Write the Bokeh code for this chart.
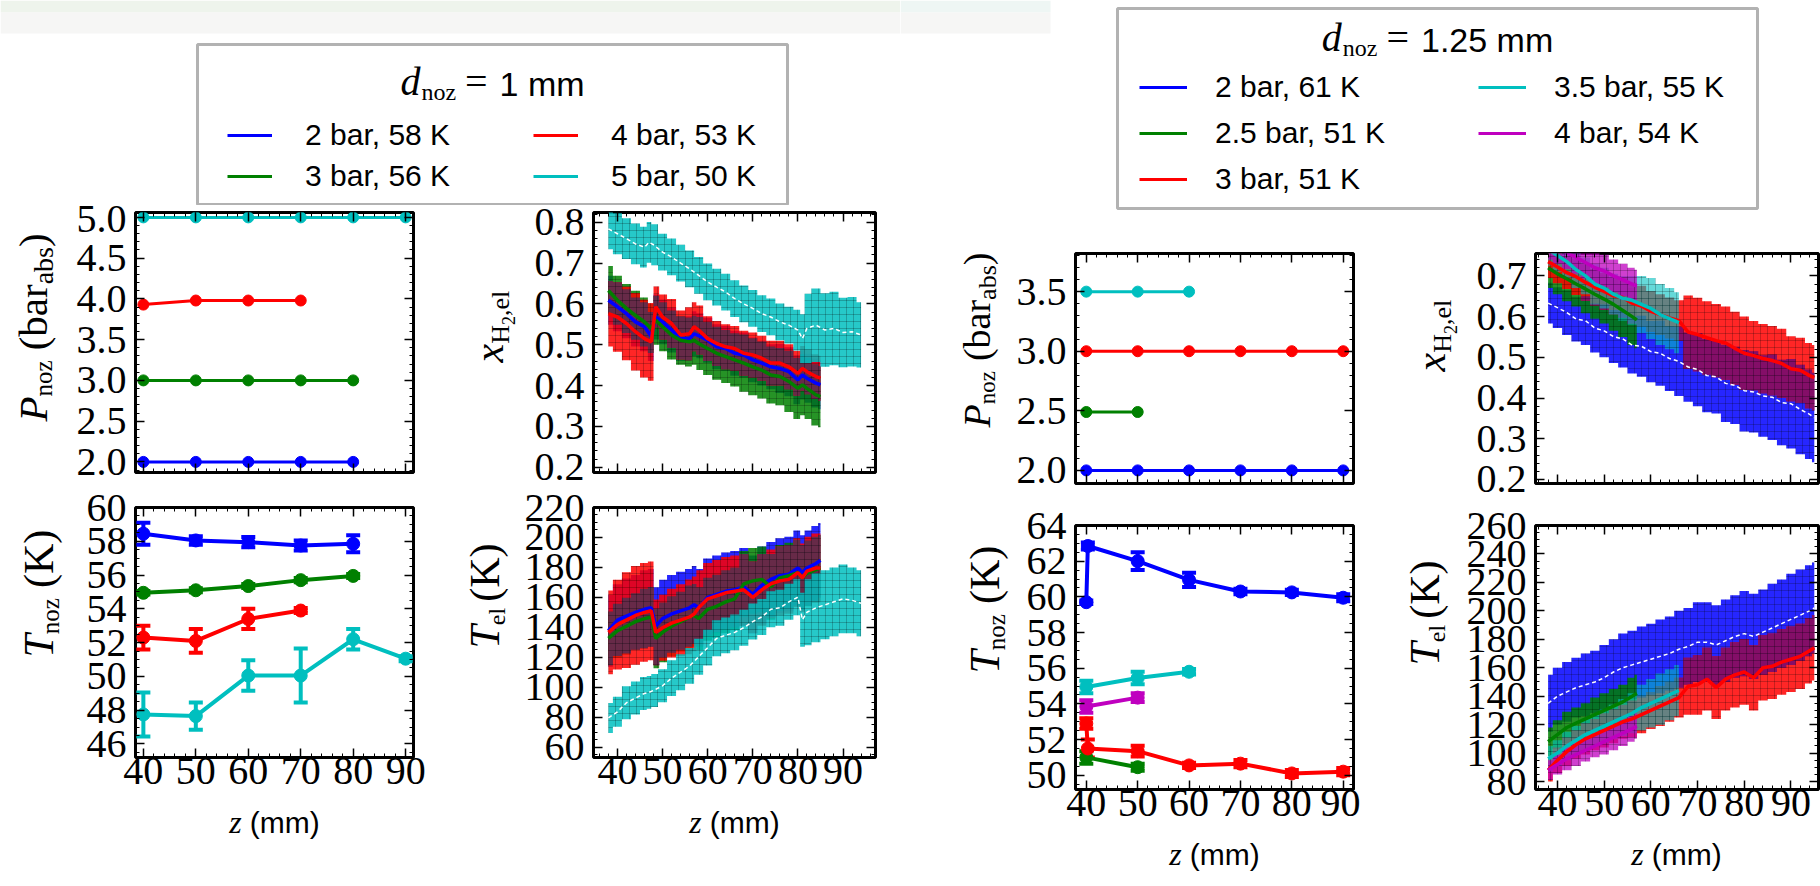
import math
from bokeh.plotting import figure
from bokeh.layouts import row, column
from bokeh.models import (Range1d, FixedTicker, LinearAxis, Label, Legend, LegendItem,
                          BoxAnnotation, Whisker, TeeHead, ColumnDataSource, PrintfTickFormatter)
from bokeh.embed import file_html
from bokeh.resources import INLINE

BLUE, GREEN, RED, CYAN, MAGENTA = "#0000ff", "#008000", "#ff0000", "#00bfbf", "#bf00bf"
SERIF, SANS = "Liberation Serif", "Liberation Sans"

# ======================= DATA : d_noz = 1 mm =======================
z_ticks = [40, 50, 60, 70, 80, 90]
legend1_labels = ["2 bar, 58 K", "3 bar, 56 K", "4 bar, 53 K", "5 bar, 50 K"]

p1_z_2bar = [40, 50, 60, 70, 80]
p1_2bar = [2.0, 2.0, 2.0, 2.0, 2.0]
p1_z_3bar = [40, 50, 60, 70, 80]
p1_3bar = [3.0, 3.0, 3.0, 3.0, 3.0]
p1_z_4bar = [40, 50, 60, 70]
p1_4bar = [3.93, 3.98, 3.98, 3.98]
p1_z_5bar = [40, 50, 60, 70, 80, 90]
p1_5bar = [5.0, 5.0, 5.0, 5.0, 5.0, 5.0]
p1_ticks = [2.0, 2.5, 3.0, 3.5, 4.0, 4.5, 5.0]

t1_2bar = [58.45, 58.05, 57.95, 57.75, 57.85]
t1_2bar_err = [0.65, 0.25, 0.3, 0.3, 0.5]
t1_3bar = [54.95, 55.1, 55.35, 55.7, 55.95]
t1_3bar_err = [0.1, 0.12, 0.12, 0.12, 0.12]
t1_4bar = [52.3, 52.1, 53.4, 53.9]
t1_4bar_err = [0.7, 0.7, 0.6, 0.15]
t1_5bar = [47.75, 47.65, 50.05, 50.05, 52.2, 51.05]
t1_5bar_err = [1.3, 0.8, 0.9, 1.6, 0.6, 0.15]
t1_ticks = [46, 48, 50, 52, 54, 56, 58, 60]

z_el1 = [38, 40, 42, 44, 46, 47.5, 48.5, 50, 52, 54, 56, 57, 58, 60, 62, 64, 66, 68, 70,
         72, 74, 76, 78, 80, 81, 82, 84, 85]
x1_2bar = [0.609, 0.593, 0.576, 0.556, 0.544, 0.520, 0.568, 0.556, 0.536, 0.515, 0.515, 0.527,
           0.522, 0.511, 0.495, 0.491, 0.479, 0.475, 0.463, 0.455, 0.446, 0.442, 0.434, 0.414,
           0.426, 0.418, 0.406, 0.402]
x1_2bar_err = [0.06, 0.06, 0.06, 0.06, 0.06, 0.06, 0.055, 0.055, 0.055, 0.055, 0.055, 0.055,
               0.055, 0.055, 0.055, 0.055, 0.055, 0.055, 0.055, 0.055, 0.055, 0.06, 0.06, 0.06,
               0.06, 0.06, 0.06, 0.06]
x1_3bar = [0.633, 0.609, 0.589, 0.572, 0.556, 0.540, 0.560, 0.544, 0.524, 0.511, 0.507, 0.511,
           0.503, 0.491, 0.479, 0.471, 0.463, 0.455, 0.446, 0.438, 0.426, 0.422, 0.410, 0.393,
           0.402, 0.393, 0.377, 0.373]
x1_3bar_err = [0.06, 0.06, 0.06, 0.06, 0.06, 0.06, 0.06, 0.06, 0.06, 0.06, 0.06, 0.06, 0.065,
               0.065, 0.065, 0.065, 0.065, 0.07, 0.07, 0.07, 0.07, 0.07, 0.075, 0.075, 0.075,
               0.075, 0.075, 0.075]
x1_4bar = [0.576, 0.568, 0.552, 0.532, 0.515, 0.507, 0.593, 0.568, 0.552, 0.524, 0.527, 0.544,
           0.536, 0.515, 0.503, 0.495, 0.491, 0.479, 0.475, 0.467, 0.455, 0.455, 0.446, 0.430,
           0.442, 0.434, 0.422, 0.418]
x1_4bar_err = [0.08, 0.085, 0.09, 0.095, 0.095, 0.095, 0.05, 0.055, 0.06, 0.06, 0.065, 0.06,
               0.06, 0.055, 0.055, 0.055, 0.055, 0.055, 0.055, 0.055, 0.055, 0.055, 0.055,
               0.055, 0.055, 0.055, 0.055, 0.055]
z_el1_5bar = [38, 40, 42, 44, 46, 47, 48, 50, 52, 54, 56, 58, 60, 62, 64, 66, 68, 70, 72, 74,
              76, 78, 80, 81, 82, 84, 86, 88, 90, 92, 94]
x1_5bar = [0.784, 0.772, 0.760, 0.747, 0.739, 0.751, 0.745, 0.727, 0.715, 0.700, 0.686, 0.670,
           0.654, 0.641, 0.629, 0.613, 0.600, 0.589, 0.576, 0.568, 0.556, 0.548, 0.536, 0.515,
           0.540, 0.548, 0.536, 0.540, 0.530, 0.532, 0.524]
x1_5bar_err = [0.05, 0.05, 0.05, 0.05, 0.05, 0.05, 0.05, 0.045, 0.045, 0.045, 0.045, 0.045,
               0.045, 0.045, 0.045, 0.045, 0.045, 0.045, 0.045, 0.045, 0.045, 0.045, 0.05,
               0.06, 0.085, 0.09, 0.09, 0.09, 0.085, 0.085, 0.08]
x1_ticks = [0.2, 0.3, 0.4, 0.5, 0.6, 0.7, 0.8]

T1_2bar = [137.7, 144.8, 147.5, 149.9, 152.0, 153.0, 140.7, 145.8, 148.9, 151.0, 153.0, 155.0,
           153.0, 160.0, 162.0, 164.0, 165.0, 167.0, 162.0, 168.0, 172.0, 174.5, 175.5, 179.6,
           176.5, 179.6, 182.6, 184.7]
T1_2bar_err = [24, 24, 25, 25, 26, 26, 26, 26, 26, 26, 26, 26, 26, 26, 26, 26, 26, 26, 26, 26,
               25, 25, 25, 25, 25, 25, 25, 25]
T1_3bar = [132.6, 137.7, 140.7, 143.8, 145.8, 146.9, 132.6, 136.6, 140.7, 143.8, 146.9, 147.9,
           145.8, 152.0, 154.0, 157.0, 159.0, 169.0, 171.0, 172.0, 167.0, 173.0, 174.5, 176.5,
           173.0, 176.0, 178.5, 179.6]
T1_3bar_err = [18, 18, 19, 19, 20, 20, 20, 20, 20, 20, 21, 21, 21, 21, 21, 21, 21, 22, 22, 22,
               22, 22, 22, 22, 22, 22, 22, 22]
T1_4bar = [136.6, 141.8, 144.8, 147.9, 149.9, 151.0, 136.6, 139.7, 142.8, 144.8, 146.9, 148.9,
           153.0, 159.0, 161.0, 163.0, 164.0, 165.0, 160.0, 165.0, 169.0, 171.0, 172.0, 176.5,
           173.0, 177.5, 179.6, 179.6]
T1_4bar_err = [28, 30, 32, 33, 33, 33, 22, 22, 23, 24, 25, 25, 25, 24, 24, 24, 24, 24, 24, 24,
               23, 23, 23, 23, 23, 23, 23, 23]
T1_5bar = [79.4, 83.5, 89.6, 92.7, 95.8, 96.5, 97.8, 100.9, 106.0, 110.0, 114.2, 120.3, 126.4,
           132.6, 134.6, 136.6, 139.7, 143.8, 146.9, 152.0, 153.0, 157.0, 160.1, 145.0, 150.0,
           153.0, 155.0, 157.0, 159.0, 158.0, 156.0]
T1_5bar_err = [10, 10, 11, 11, 11, 11, 11, 11, 12, 12, 12, 12, 12, 12, 12, 12, 12, 12, 12, 12,
               12, 12, 12, 18, 22, 23, 23, 23, 23, 22, 22]
T1_ticks = [60, 80, 100, 120, 140, 160, 180, 200, 220]

# ======================= DATA : d_noz = 1.25 mm =======================
legend2_labels = ["2 bar, 61 K", "2.5 bar, 51 K", "3 bar, 51 K", "3.5 bar, 55 K", "4 bar, 54 K"]

p2_z_2bar = [40, 50, 60, 70, 80, 90]
p2_2bar = [2.0, 2.0, 2.0, 2.0, 2.0, 2.0]
p2_z_2p5bar = [40, 50]
p2_2p5bar = [2.49, 2.49]
p2_z_3bar = [40, 50, 60, 70, 80, 90]
p2_3bar = [3.0, 3.0, 3.0, 3.0, 3.0, 3.0]
p2_z_3p5bar = [40, 50, 60]
p2_3p5bar = [3.5, 3.5, 3.5]
p2_z_4bar = [40, 50]
p2_4bar = [4.0, 4.0]
p2_ticks = [2.0, 2.5, 3.0, 3.5, 4.0]

t2_z_2bar = [40, 40.3, 50, 60, 70, 80, 90]
t2_2bar = [59.7, 62.85, 62.0, 60.95, 60.3, 60.25, 59.95]
t2_2bar_err = [0.1, 0.2, 0.5, 0.4, 0.15, 0.15, 0.2]
t2_z_2p5bar = [40, 50]
t2_2p5bar = [51.0, 50.45]
t2_2p5bar_err = [0.35, 0.2]
t2_z_3bar = [40, 40.3, 50, 60, 70, 80, 90]
t2_3bar = [52.9, 51.5, 51.35, 50.55, 50.65, 50.1, 50.2]
t2_3bar_err = [0.3, 0.5, 0.3, 0.15, 0.2, 0.2, 0.2]
t2_z_3p5bar = [40, 50, 60]
t2_3p5bar = [54.95, 55.45, 55.8]
t2_3p5bar_err = [0.35, 0.35, 0.15]
t2_z_4bar = [40, 50]
t2_4bar = [53.85, 54.35]
t2_4bar_err = [0.35, 0.25]
t2_ticks = [50, 52, 54, 56, 58, 60, 62, 64]

z_el2 = [38, 40, 42, 44, 46, 48, 50, 52, 54, 56, 58, 60, 62, 64, 66, 68, 70, 72, 74, 76, 78,
         80, 82, 84, 86, 88, 90, 92, 94, 95]
z_el2_short = [38, 40, 42, 44, 46, 48, 50, 52, 54, 56, 57]
z_el2_mid = [38, 40, 42, 44, 46, 48, 50, 52, 54, 56, 58, 60, 62, 64, 66]
x2_2bar = [0.633, 0.622, 0.610, 0.594, 0.590, 0.572, 0.565, 0.551, 0.545, 0.530, 0.527, 0.514,
           0.510, 0.497, 0.490, 0.476, 0.470, 0.455, 0.452, 0.436, 0.431, 0.418, 0.415, 0.405,
           0.402, 0.389, 0.386, 0.372, 0.360, 0.352]
x2_2bar_err = [0.05, 0.05, 0.055, 0.055, 0.06, 0.06, 0.065, 0.065, 0.07, 0.07, 0.075, 0.075,
               0.08, 0.08, 0.085, 0.085, 0.09, 0.09, 0.09, 0.095, 0.095, 0.1, 0.1, 0.1, 0.105,
               0.105, 0.11, 0.11, 0.11, 0.11]
x2_3bar = [0.735, 0.722, 0.708, 0.698, 0.684, 0.672, 0.662, 0.651, 0.647, 0.633, 0.626, 0.613,
           0.605, 0.597, 0.590, 0.562, 0.556, 0.548, 0.541, 0.535, 0.522, 0.510, 0.504, 0.497,
           0.492, 0.485, 0.472, 0.468, 0.455, 0.450]
x2_3bar_err = [0.04, 0.04, 0.04, 0.045, 0.045, 0.045, 0.045, 0.045, 0.05, 0.05, 0.05, 0.05,
               0.05, 0.05, 0.05, 0.09, 0.09, 0.09, 0.09, 0.09, 0.09, 0.09, 0.085, 0.085, 0.085,
               0.085, 0.08, 0.08, 0.08, 0.08]
x2_2p5bar = [0.720, 0.705, 0.693, 0.680, 0.668, 0.655, 0.643, 0.630, 0.615, 0.600, 0.592]
x2_2p5bar_err = [0.05, 0.05, 0.055, 0.055, 0.06, 0.06, 0.06, 0.065, 0.065, 0.07, 0.07]
x2_4bar = [0.780, 0.770, 0.757, 0.745, 0.733, 0.720, 0.712, 0.700, 0.690, 0.680, 0.675]
x2_4bar_err = [0.04, 0.04, 0.04, 0.04, 0.04, 0.04, 0.04, 0.04, 0.04, 0.04, 0.04]
x2_3p5bar = [0.765, 0.750, 0.735, 0.715, 0.700, 0.680, 0.670, 0.655, 0.645, 0.640, 0.630,
             0.620, 0.605, 0.595, 0.585]
x2_3p5bar_err = [0.04, 0.04, 0.04, 0.045, 0.045, 0.05, 0.05, 0.05, 0.055, 0.06, 0.07, 0.075,
                 0.075, 0.075, 0.075]
x2_ticks = [0.2, 0.3, 0.4, 0.5, 0.6, 0.7]

T2_2bar = [135, 140, 143, 146, 148, 150, 153, 157, 160, 162, 164, 166, 168, 170, 173, 175, 178,
           178, 176, 179, 182, 184, 182, 185, 188, 191, 194, 197, 200, 202]
T2_2bar_err = [20, 20, 21, 21, 22, 22, 23, 23, 24, 24, 25, 25, 26, 26, 27, 27, 28, 28, 28, 29,
               29, 30, 30, 30, 31, 31, 32, 32, 32, 32]
T2_3bar = [88, 95, 101, 106, 110, 113, 116, 119, 122, 124, 127, 130, 133, 136, 139, 147, 148,
           152, 146, 152, 155, 157, 153, 160, 161, 164, 166, 168, 172, 174]
T2_3bar_err = [8, 9, 10, 10, 11, 11, 12, 12, 12, 13, 13, 13, 14, 14, 14, 20, 21, 22, 22, 22, 23,
               23, 23, 23, 23, 23, 23, 23, 23, 23]
T2_2p5bar = [108, 113, 118, 121, 124, 127, 130, 133, 136, 140, 142]
T2_2p5bar_err = [10, 10, 11, 11, 11, 12, 12, 12, 12, 13, 13]
T2_4bar = [88, 92, 96, 99, 102, 105, 108, 111, 114, 117, 119]
T2_4bar_err = [7, 7, 8, 8, 8, 8, 9, 9, 9, 9, 9]
T2_3p5bar = [96, 100, 105, 109, 113, 116, 119, 122, 125, 128, 132, 135, 138, 141, 144]
T2_3p5bar_err = [9, 9, 10, 10, 11, 11, 12, 12, 13, 14, 16, 17, 18, 18, 18]
T2_ticks = [80, 100, 120, 140, 160, 180, 200, 220, 240, 260]

# ======================= helpers =======================
W_SERIF = {' ': .25, '(': .333, ')': .333, 'a': .444, 'b': .5, 'r': .333, 's': .389, 'n': .5,
           'o': .5, 'z': .444, 'K': .722, 'e': .444, 'l': .278, 'H': .722, '2': .5, ',': .25,
           '=': .564, 'm': .778}
W_SERIF_IT = {'P': .611, 'T': .556, 'x': .444, 'd': .5, 'z': .389}
W_SANS = {' ': .278, '(': .333, ')': .333, 'm': .833, '.': .278, '1': .556, '2': .556, '5': .556}
MID = 0.3375  # em-box middle above the baseline


def twidth(s, font, italic, size):
    tbl = W_SANS if font == SANS else (W_SERIF_IT if italic else W_SERIF)
    return sum(tbl.get(c, 0.5) for c in s) * size


def rich(p, x0, y0, pieces, vertical=False):
    """(x0, y0): start of the text on the middle line of the main font.
    pieces: (text, font, size, italic, baseline_drop, gap_before)"""
    main = pieces[0][2]
    pos = 0.0
    for text, font, size, italic, drop, gap in pieces:
        pos += gap
        shift = drop + MID * (main - size)
        if vertical:
            x, y, ang = x0 + shift, y0 + pos, math.pi / 2
        else:
            x, y, ang = x0 + pos, y0 - shift, 0
        p.add_layout(Label(x=x, y=y, x_units="screen", y_units="screen", text=text, angle=ang,
                           text_font=font, text_font_size=f"{size}px",
                           text_font_style="italic" if italic else "normal",
                           text_color="black", text_baseline="middle", text_align="left"))
        pos += twidth(text, font, italic, size)
    return pos


def rich_width(pieces):
    return sum(g + twidth(t, f, it, s) for t, f, s, it, sh, g in pieces)


def frange(a, b, step):
    n = int(round((b - a) / step))
    return [round(a + i * step, 4) for i in range(n + 1)]


def style_axis(ax, labels, fmt=None):
    ax.axis_line_color = None
    ax.major_tick_in = 9
    ax.major_tick_out = 0
    ax.minor_tick_in = 4
    ax.minor_tick_out = 0
    ax.major_tick_line_color = "black"
    ax.major_tick_line_width = 1.5
    ax.minor_tick_line_color = "black"
    ax.minor_tick_line_width = 1
    if fmt:
        ax.formatter = PrintfTickFormatter(format=fmt)
    if labels:
        ax.major_label_text_font = SERIF
        ax.major_label_text_font_size = "40px"
        ax.major_label_text_color = "black"
    else:
        ax.major_label_text_font_size = "1px"
        ax.major_label_text_color = None
    ax.major_label_standoff = 0


def panel(width, height, borders, xr, yr, yticks, yminor, xlabels, yfmt=None):
    l, r, t, b = borders
    p = figure(width=width, height=height, x_range=Range1d(*xr), y_range=Range1d(*yr),
               output_backend="svg", toolbar_location=None,
               x_axis_location=None, y_axis_location=None,
               min_border_left=l, min_border_right=r, min_border_top=t, min_border_bottom=b)
    p.grid.visible = False
    p.outline_line_color = "black"
    p.outline_line_width = 3
    xminor = frange(30, 100, 2)
    for loc in ("below", "above"):
        ax = LinearAxis(ticker=FixedTicker(ticks=z_ticks, minor_ticks=xminor))
        style_axis(ax, xlabels and loc == "below")
        p.add_layout(ax, loc)
    for loc in ("left", "right"):
        ax = LinearAxis(ticker=FixedTicker(ticks=yticks, minor_ticks=yminor))
        style_axis(ax, loc == "left", yfmt)
        if loc == "left":
            ax.major_label_standoff = 9
        p.add_layout(ax, loc)
    return p


def blank(w, h):
    p = figure(width=w, height=h, x_range=Range1d(0, w), y_range=Range1d(0, h),
               output_backend="svg", toolbar_location=None, x_axis_location=None,
               y_axis_location=None, min_border=0, outline_line_color=None)
    p.grid.visible = False
    return p


def draw_p(p, z, v, color):
    p.line(z, v, line_color=color, line_width=3)
    p.scatter(z, v, size=11, fill_color=color, line_color=color)


def draw_t(p, z, v, e, color):
    src = ColumnDataSource(dict(z=z, v=v, lo=[a - b for a, b in zip(v, e)],
                                hi=[a + b for a, b in zip(v, e)]))
    p.line("z", "v", source=src, line_color=color, line_width=4)
    p.add_layout(Whisker(base="z", lower="lo", upper="hi", source=src, line_color=color,
                         line_width=4,
                         upper_head=TeeHead(size=14, line_color=color, line_width=4),
                         lower_head=TeeHead(size=14, line_color=color, line_width=4)))
    p.scatter("z", "v", source=src, size=13, fill_color=color, line_color=color)


def draw_band(p, z, v, e, color, alpha=0.85):
    lo = [a - b for a, b in zip(v, e)]
    hi = [a + b for a, b in zip(v, e)]
    p.varea_step(x=z, y1=lo, y2=hi, step_mode="center", fill_color=color, fill_alpha=alpha,
                 hatch_pattern="+", hatch_color="black", hatch_alpha=0.22, hatch_scale=7)


def draw_overlap(p, z, series, color):
    los = [[a - b for a, b in zip(v, e)] for v, e in series]
    his = [[a + b for a, b in zip(v, e)] for v, e in series]
    lo = [max(c) for c in zip(*los)]
    hi = [min(c) for c in zip(*his)]
    hi = [max(h, l) for h, l in zip(hi, lo)]
    p.varea_step(x=z, y1=lo, y2=hi, step_mode="center", fill_color=color, fill_alpha=0.9,
                 hatch_pattern="+", hatch_color="black", hatch_alpha=0.25, hatch_scale=7)


def legend_entry(p, label, color, x, yc, gw, standoff, fsize):
    r = p.line(x=[-50, -40], y=[-50, -50], line_color=color, line_width=3)
    lg = Legend(items=[LegendItem(label=label, renderers=[r])], location=(x, yc - 18),
                padding=0, margin=0, spacing=0, glyph_width=gw, glyph_height=36,
                label_height=36, label_standoff=standoff, label_text_font=SANS,
                label_text_font_size=f"{fsize}px", label_text_color="black",
                border_line_color=None, background_fill_alpha=0)
    p.add_layout(lg)


def p_label(fig, x, y, s=41):
    sub1, sub2 = round(s * 0.61), round(s * 0.68)
    rich(fig, x, y, [("P", SERIF, s, True, 0, 0), ("noz", SERIF, sub1, False, 6, 0),
                     ("(bar", SERIF, s, False, 0, 10), ("abs", SERIF, sub2, False, 7, 0),
                     (")", SERIF, s, False, 0, 0)], vertical=True)


def tnoz_label(fig, x, y):
    rich(fig, x, y, [("T", SERIF, 42, True, 0, 0), ("noz", SERIF, 25, False, 6, 0),
                     ("(K)", SERIF, 42, False, 0, 10)], vertical=True)


def xh2_label(fig, x, y):
    rich(fig, x, y, [("x", SERIF, 42, True, 0, 0), ("H", SERIF, 26, False, 7, 0),
                     ("2", SERIF, 18, False, 12, 0), (",el", SERIF, 26, False, 7, 0)],
         vertical=True)


def tel_label(fig, x, y):
    rich(fig, x, y, [("T", SERIF, 42, True, 0, 0), ("el", SERIF, 24, False, 6, 0),
                     ("(K)", SERIF, 42, False, 0, 6)], vertical=True)


def z_label(fig, xc, y):
    pieces = [("z", SERIF, 32, True, 0, 0), ("(mm)", SANS, 30, False, 0, 8)]
    rich(fig, xc - rich_width(pieces) / 2, y, pieces)


# ======================= LEFT HALF =======================
HL = blank(900, 205)
HL.add_layout(BoxAnnotation(left=0, right=900, bottom=193, top=205, fill_color="#eef4ec",
                            fill_alpha=1, line_color=None))
HL.add_layout(BoxAnnotation(left=0, right=900, bottom=172, top=193, fill_color="#f6f6f5",
                            fill_alpha=1, line_color=None))
HL.add_layout(BoxAnnotation(left=197, right=787, bottom=1, top=161, fill_color="white",
                            fill_alpha=1, line_color="black", line_width=3))
t1 = [("d", SERIF, 40, True, 0, 0), ("noz", SERIF, 24, False, 5, 1),
      ("=", SERIF, 40, False, 0, 9), ("1 mm", SANS, 34, False, 0, 12)]
rich(HL, 492 - rich_width(t1) / 2, 124, t1)
for lab, col, x, yc in zip(legend1_labels, [BLUE, GREEN, RED, CYAN],
                           [227, 227, 533, 533], [70, 29, 70, 29]):
    legend_entry(HL, lab, col, x, yc, 45, 33, 30)

LA = blank(70, 287)
p_label(LA, 32, 51, 41)
A = panel(380, 287, (65, 37, 7, 19), (38.5, 91.5), (1.87, 5.06), p1_ticks,
          frange(1.8, 5.1, 0.1), False, "%.1f")
draw_p(A, p1_z_2bar, p1_2bar, BLUE)
draw_p(A, p1_z_3bar, p1_3bar, GREEN)
draw_p(A, p1_z_4bar, p1_4bar, RED)
draw_p(A, p1_z_5bar, p1_5bar, CYAN)

LB = blank(70, 287)
xh2_label(LB, 38, 110)
B = panel(380, 287, (73, 25, 5, 20), (34.7, 97.2), (0.187, 0.824), x1_ticks,
          frange(0.16, 0.84, 0.02), False, "%.1f")
draw_band(B, z_el1, x1_2bar, x1_2bar_err, BLUE)
draw_band(B, z_el1, x1_3bar, x1_3bar_err, GREEN)
draw_band(B, z_el1, x1_4bar, x1_4bar_err, RED)
draw_overlap(B, z_el1, [(x1_2bar, x1_2bar_err), (x1_3bar, x1_3bar_err),
                        (x1_4bar, x1_4bar_err)], "#5a2d50")
draw_band(B, z_el1_5bar, x1_5bar, x1_5bar_err, CYAN)
B.line(z_el1, x1_2bar, line_color=BLUE, line_width=3.5)
B.line(z_el1, x1_3bar, line_color=GREEN, line_width=3.5)
B.line(z_el1, x1_4bar, line_color=RED, line_width=3.5)
B.line(z_el1_5bar, x1_5bar, line_color="white", line_width=1.5, line_dash="4 3")

LC = blank(70, 313)
tnoz_label(LC, 38, 100)
C = panel(380, 313, (65, 37, 15, 48), (38.5, 91.5), (45.2, 60.0), t1_ticks,
          frange(45.0, 60.5, 0.5), True)
draw_t(C, p1_z_2bar, t1_2bar, t1_2bar_err, BLUE)
draw_t(C, p1_z_3bar, t1_3bar, t1_3bar_err, GREEN)
draw_t(C, p1_z_4bar, t1_4bar, t1_4bar_err, RED)
draw_t(C, p1_z_5bar, t1_5bar, t1_5bar_err, CYAN)

LD = blank(70, 313)
tel_label(LD, 34, 109)
D = panel(380, 313, (73, 25, 15, 48), (34.7, 97.2), (53.0, 220.0), T1_ticks,
          frange(50, 225, 5), True)
draw_band(D, z_el1, T1_2bar, T1_2bar_err, BLUE)
draw_band(D, z_el1, T1_3bar, T1_3bar_err, GREEN)
draw_band(D, z_el1, T1_4bar, T1_4bar_err, RED)
draw_overlap(D, z_el1, [(T1_2bar, T1_2bar_err), (T1_3bar, T1_3bar_err),
                        (T1_4bar, T1_4bar_err)], "#5a2d50")
draw_band(D, z_el1_5bar, T1_5bar, T1_5bar_err, CYAN)
D.line(z_el1, T1_2bar, line_color=BLUE, line_width=3.5)
D.line(z_el1, T1_3bar, line_color=GREEN, line_width=3.5)
D.line(z_el1, T1_4bar, line_color=RED, line_width=3.5)
D.line(z_el1_5bar, T1_5bar, line_color="white", line_width=1.5, line_dash="4 3")

ZL1 = blank(450, 81)
z_label(ZL1, 274, 65)
ZL2 = blank(450, 81)
z_label(ZL2, 284, 65)

# ======================= RIGHT HALF =======================
HR = blank(920, 245)
HR.add_layout(BoxAnnotation(left=0, right=150, bottom=233, top=245, fill_color="#eef6f4",
                            fill_alpha=1, line_color=None))
HR.add_layout(BoxAnnotation(left=0, right=150, bottom=212, top=233, fill_color="#f6f6f5",
                            fill_alpha=1, line_color=None))
HR.add_layout(BoxAnnotation(left=217, right=857, bottom=37, top=237, fill_color="white",
                            fill_alpha=1, line_color="black", line_width=3))
t2 = [("d", SERIF, 40, True, 0, 0), ("noz", SERIF, 24, False, 5, 1),
      ("=", SERIF, 40, False, 0, 9), ("1.25 mm", SANS, 34, False, 0, 12)]
rich(HR, 537 - rich_width(t2) / 2, 208, t2)
for lab, col, x, yc in zip(legend2_labels, [BLUE, GREEN, RED, CYAN, MAGENTA],
                           [239, 239, 239, 578, 578], [158, 112, 66, 158, 112]):
    legend_entry(HR, lab, col, x, yc, 48, 28, 30)

LE = blank(112, 257)
p_label(LE, 76, 56, 38)
E = panel(348, 257, (63, 7, 8, 19), (37.9, 92.0), (1.89, 3.82), p2_ticks,
          frange(1.8, 4.1, 0.1), False, "%.1f")
draw_p(E, p2_z_2bar, p2_2bar, BLUE)
draw_p(E, p2_z_2p5bar, p2_2p5bar, GREEN)
draw_p(E, p2_z_3bar, p2_3bar, RED)
draw_p(E, p2_z_3p5bar, p2_3p5bar, CYAN)
draw_p(E, p2_z_4bar, p2_4bar, MAGENTA)

LF = blank(102, 257)
xh2_label(LF, 70, 112)
F = panel(358, 257, (73, 2, 8, 19), (35.3, 95.9), (0.19, 0.755), x2_ticks,
          frange(0.16, 0.78, 0.02), False, "%.1f")
draw_band(F, z_el2, x2_2bar, x2_2bar_err, BLUE)
draw_band(F, z_el2_short, x2_2p5bar, x2_2p5bar_err, GREEN)
draw_band(F, z_el2, x2_3bar, x2_3bar_err, RED)
draw_overlap(F, z_el2, [(x2_2bar, x2_2bar_err), (x2_3bar, x2_3bar_err)], "#7a1070")
draw_band(F, z_el2_mid, x2_3p5bar, x2_3p5bar_err, CYAN, 0.6)
draw_band(F, z_el2_short, x2_4bar, x2_4bar_err, MAGENTA, 0.75)
F.line(z_el2, x2_2bar, line_color="white", line_width=1.5, line_dash="4 3")
F.line(z_el2_short, x2_2p5bar, line_color=GREEN, line_width=3.5)
F.line(z_el2, x2_3bar, line_color=RED, line_width=3.5)
F.line(z_el2_mid, x2_3p5bar, line_color=CYAN, line_width=3.5)
F.line(z_el2_short, x2_4bar, line_color=MAGENTA, line_width=3.5)

LG = blank(112, 335)
tnoz_label(LG, 84, 116)
G = panel(348, 335, (63, 7, 23, 48), (37.9, 92.0), (49.2, 64.0), t2_ticks,
          frange(49.0, 64.5, 0.5), True)
draw_t(G, t2_z_2bar, t2_2bar, t2_2bar_err, BLUE)
draw_t(G, t2_z_2p5bar, t2_2p5bar, t2_2p5bar_err, GREEN)
draw_t(G, t2_z_3bar, t2_3bar, t2_3bar_err, RED)
draw_t(G, t2_z_3p5bar, t2_3p5bar, t2_3p5bar_err, CYAN)
draw_t(G, t2_z_4bar, t2_4bar, t2_4bar_err, MAGENTA)

LH = blank(102, 335)
tel_label(LH, 64, 124)
H = panel(358, 335, (73, 2, 23, 48), (35.3, 95.9), (74.4, 260.0), T2_ticks,
          frange(70, 265, 5), True)
draw_band(H, z_el2, T2_2bar, T2_2bar_err, BLUE)
draw_band(H, z_el2_short, T2_2p5bar, T2_2p5bar_err, GREEN)
draw_band(H, z_el2, T2_3bar, T2_3bar_err, RED)
draw_overlap(H, z_el2, [(T2_2bar, T2_2bar_err), (T2_3bar, T2_3bar_err)], "#7a1070")
draw_band(H, z_el2_mid, T2_3p5bar, T2_3p5bar_err, CYAN, 0.6)
draw_band(H, z_el2_short, T2_4bar, T2_4bar_err, MAGENTA, 0.75)
H.line(z_el2, T2_2bar, line_color="white", line_width=1.5, line_dash="4 3")
H.line(z_el2_short, T2_2p5bar, line_color=GREEN, line_width=3.5)
H.line(z_el2, T2_3bar, line_color=RED, line_width=3.5)
H.line(z_el2_mid, T2_3p5bar, line_color=CYAN, line_width=3.5)
H.line(z_el2_short, T2_4bar, line_color=MAGENTA, line_width=3.5)

ZR1 = blank(460, 49)
z_label(ZR1, 314, 33)
ZR2 = blank(460, 49)
z_label(ZR2, 316, 33)

left = column(HL, row(LA, A, LB, B, spacing=0), row(LC, C, LD, D, spacing=0),
              row(ZL1, ZL2, spacing=0), spacing=0)
right = column(HR, row(LE, E, LF, F, spacing=0), row(LG, G, LH, H, spacing=0),
               row(ZR1, ZR2, spacing=0), spacing=0)
page = row(left, right, spacing=0)

open("out.html", "w").write(file_html(page, INLINE, title="nozzle"))
